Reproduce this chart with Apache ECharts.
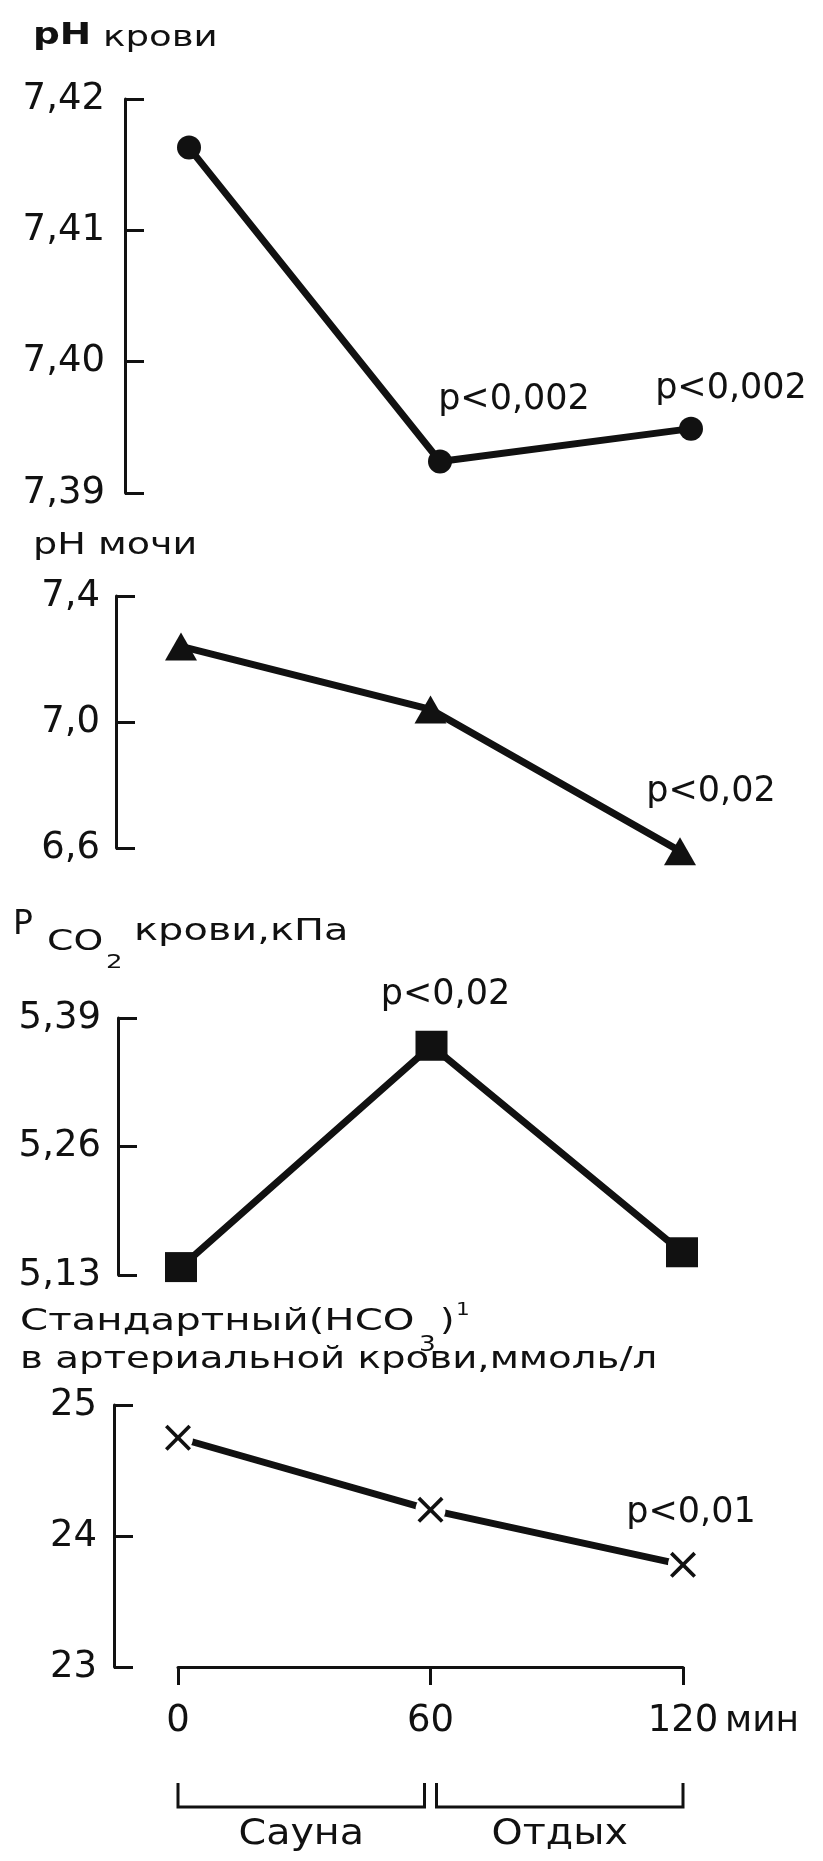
<!DOCTYPE html>
<html lang="ru">
<head>
<meta charset="utf-8">
<title>Кислотно-щелочное равновесие: сауна и отдых</title>
<script src="https://cdn.jsdelivr.net/npm/echarts@6/dist/echarts.min.js"></script>
<style>
  html, body { margin: 0; padding: 0; background: #fff; }
  #chart { width: 823px; height: 1861px; }
</style>
</head>
<body>
<div id="chart"></div>
<script>
// Time points, minutes from the start of the session
const minutes = [0, 60, 120];
const minuteTicks = [0, 60, 120];

// Blood pH
const phBlood = [7.4163, 7.3924, 7.3949];
const phBloodTicks = [7.39, 7.40, 7.41, 7.42];
const phBloodP = ['', 'p<0,002', 'p<0,002'];

// Urine pH
const phUrine = [7.24, 7.04, 6.59];
const phUrineTicks = [6.6, 7.0, 7.4];
const phUrineP = ['', '', 'p<0,02'];

// Blood Pco2, kPa
const pco2 = [5.138, 5.362, 5.153];
const pco2Ticks = [5.13, 5.26, 5.39];
const pco2P = ['', 'p<0,02', ''];

// Standard bicarbonate in arterial blood, mmol/l
const hco3 = [24.75, 24.20, 23.78];
const hco3Ticks = [23, 24, 25];
const hco3P = ['', '', 'p<0,01'];

// Phases marked under the time axis
const phaseNames = ['Сауна', 'Отдых'];
const phaseBounds = [[0, 60], [60, 120]];
const timeUnit = 'мин';

const INK = '#111';
const FONT = 'DejaVu Sans';

// X-shaped marker drawn as a filled outline
const CROSS = 'path://M0,1L1,0L5,4L9,0L10,1L6,5L10,9L9,10L5,6L1,10L0,9L4,5Z';

const panels = [
  { grid: { left: 189, top: 99, width: 502, height: 394 }, axisX: 125, decimals: 2,
    ticks: phBloodTicks, values: phBlood, pvals: phBloodP, margin: 20,
    symbol: 'circle', symbolSize: 24, labelOffsets: [null, [74, -62], [40, -40]] },
  { grid: { left: 181, top: 596, width: 499, height: 252 }, axisX: 116, decimals: 1,
    ticks: phUrineTicks, values: phUrine, pvals: phUrineP, margin: 16,
    symbol: 'triangle', symbolSize: [32, 28], labelOffsets: [null, null, [31, -59]] },
  { grid: { left: 181, top: 1018, width: 501, height: 257 }, axisX: 118, decimals: 2,
    ticks: pco2Ticks, values: pco2, pvals: pco2P, margin: 17,
    symbol: 'rect', symbolSize: [32, 30], labelOffsets: [null, [14, -51], null] },
  { grid: { left: 178, top: 1405, width: 505, height: 262 }, axisX: 114, decimals: 0,
    ticks: hco3Ticks, values: hco3, pvals: hco3P, margin: 17,
    symbol: CROSS, symbolSize: 26, labelOffsets: [null, null, [8, -52]] }
];

const fmt = (v, d) => v.toFixed(d).replace('.', ',');

function pointData(p) {
  return minutes.map((m, k) => ({
    value: [m, p.values[k]],
    label: p.pvals[k]
      ? { show: true, formatter: p.pvals[k], position: 'inside', offset: p.labelOffsets[k],
          fontSize: 35, fontFamily: FONT, color: INK }
      : { show: false }
  }));
}

const series = [];
panels.forEach((p, i) => {
  const cross = i === 3;
  series.push({
    type: 'line', xAxisIndex: i, yAxisIndex: i, z: 2, silent: true, clip: false,
    data: cross ? minutes.map((m, k) => [m, p.values[k]]) : pointData(p),
    symbol: p.symbol, symbolSize: p.symbolSize, showSymbol: !cross,
    lineStyle: { color: INK, width: 7, cap: 'round' },
    itemStyle: { color: INK, borderWidth: 0, opacity: 1 },
    label: { show: false }
  });
  if (cross) {
    // white halo keeps a small gap between the line and each cross
    series.push({
      type: 'scatter', xAxisIndex: i, yAxisIndex: i, z: 3, silent: true, clip: false,
      data: minutes.map((m, k) => [m, p.values[k]]),
      symbol: 'circle', symbolSize: 30, itemStyle: { color: '#fff', opacity: 1 }
    });
    series.push({
      type: 'scatter', xAxisIndex: i, yAxisIndex: i, z: 4, silent: true, clip: false,
      data: pointData(p), symbol: p.symbol, symbolSize: p.symbolSize,
      itemStyle: { color: INK, opacity: 1 }, label: { show: false }
    });
  }
});

const option = {
  animation: false,
  backgroundColor: '#fff',
  textStyle: { fontFamily: FONT, color: INK },
  grid: panels.map(p => Object.assign({ containLabel: false, outerBoundsMode: 'none' }, p.grid)),
  xAxis: panels.map((p, i) => {
    const shown = i === 3;
    return {
      gridIndex: i, type: 'value', min: minuteTicks[0], max: minuteTicks[minuteTicks.length - 1],
      show: shown,
      name: shown ? timeUnit : '', nameLocation: 'end', nameGap: 42,
      nameTextStyle: { fontSize: 36, fontFamily: FONT, color: INK, verticalAlign: 'top', padding: [37, 0, 0, 0] },
      axisLine: { show: shown, onZero: false, lineStyle: { color: INK, width: 3 } },
      axisTick: { show: shown, inside: false, length: 18, lineStyle: { color: INK, width: 3 }, customValues: minuteTicks },
      axisLabel: { show: shown, customValues: minuteTicks, margin: 36, fontSize: 37, fontFamily: FONT, color: INK },
      splitLine: { show: false }
    };
  }),
  yAxis: panels.map((p, i) => ({
    gridIndex: i, type: 'value', min: p.ticks[0], max: p.ticks[p.ticks.length - 1],
    position: 'left', offset: p.grid.left - p.axisX,
    axisLine: { show: true, onZero: false, lineStyle: { color: INK, width: 3 } },
    axisTick: { show: true, inside: true, length: 19, lineStyle: { color: INK, width: 3 }, customValues: p.ticks },
    axisLabel: { customValues: p.ticks, margin: p.margin, fontSize: 37, fontFamily: FONT, color: INK,
                 formatter: v => fmt(v, p.decimals) },
    splitLine: { show: false }
  })),
  series: series
};

const chart = echarts.init(document.getElementById('chart'), null, { renderer: 'canvas' });
chart.setOption(option);

// Text placed on the canvas; scaleX widens the lettering toward the printed face
function txt(text, x, y, size, o) {
  o = o || {};
  const align = o.align || 'left';
  return {
    type: 'text', x: x, y: y, scaleX: o.scaleX || 1, silent: true,
    style: {
      text: text, x: 0, y: 0, fill: INK,
      font: (o.weight || 'normal') + ' ' + size + 'px "' + FONT + '"',
      align: align, textAlign: align, verticalAlign: 'middle', textVerticalAlign: 'middle'
    }
  };
}

const graphics = [
  // blood pH
  txt('pH', 33, 36, 30, { weight: 'bold', scaleX: 1.25 }),
  txt('крови', 103, 38, 29, { scaleX: 1.28 }),
  // urine pH
  txt('pH мочи', 33, 546, 30, { scaleX: 1.27 }),
  // Pco2
  txt('P', 13, 925, 33),
  txt('CO', 47, 943, 28, { scaleX: 1.35 }),
  txt('2', 106, 963, 20, { scaleX: 1.3 }),
  txt('крови,кПа', 134, 932, 30, { scaleX: 1.33 }),
  // standard bicarbonate
  txt('Стандартный(HCO', 20, 1322, 31, { scaleX: 1.3 }),
  txt('3', 419, 1345, 22, { scaleX: 1.2 }),
  txt(')', 440, 1322, 31, { scaleX: 1.2 }),
  txt('1', 456, 1310, 18, { scaleX: 1.2 }),
  txt('в артериальной крови,ммоль/л', 20, 1360, 31, { scaleX: 1.25 })
];

// Brackets for the sauna and rest phases, placed through the time axis of the last panel
const yTop = 1783, yBottom = 1807, gap = 6;
phaseBounds.forEach((b, k) => {
  let x0 = chart.convertToPixel({ gridIndex: 3 }, [b[0], hco3Ticks[0]])[0];
  let x1 = chart.convertToPixel({ gridIndex: 3 }, [b[1], hco3Ticks[0]])[0];
  if (k > 0) x0 += gap;
  if (k < phaseBounds.length - 1) x1 -= gap;
  graphics.push({
    type: 'polyline', silent: true,
    shape: { points: [[x0, yTop], [x0, yBottom], [x1, yBottom], [x1, yTop]] },
    style: { stroke: INK, lineWidth: 3, fill: null }
  });
  graphics.push(txt(phaseNames[k], (x0 + x1) / 2, 1835, 36, { align: 'center', scaleX: 1.1 }));
});

chart.setOption({ graphic: graphics });
</script>
</body>
</html>
